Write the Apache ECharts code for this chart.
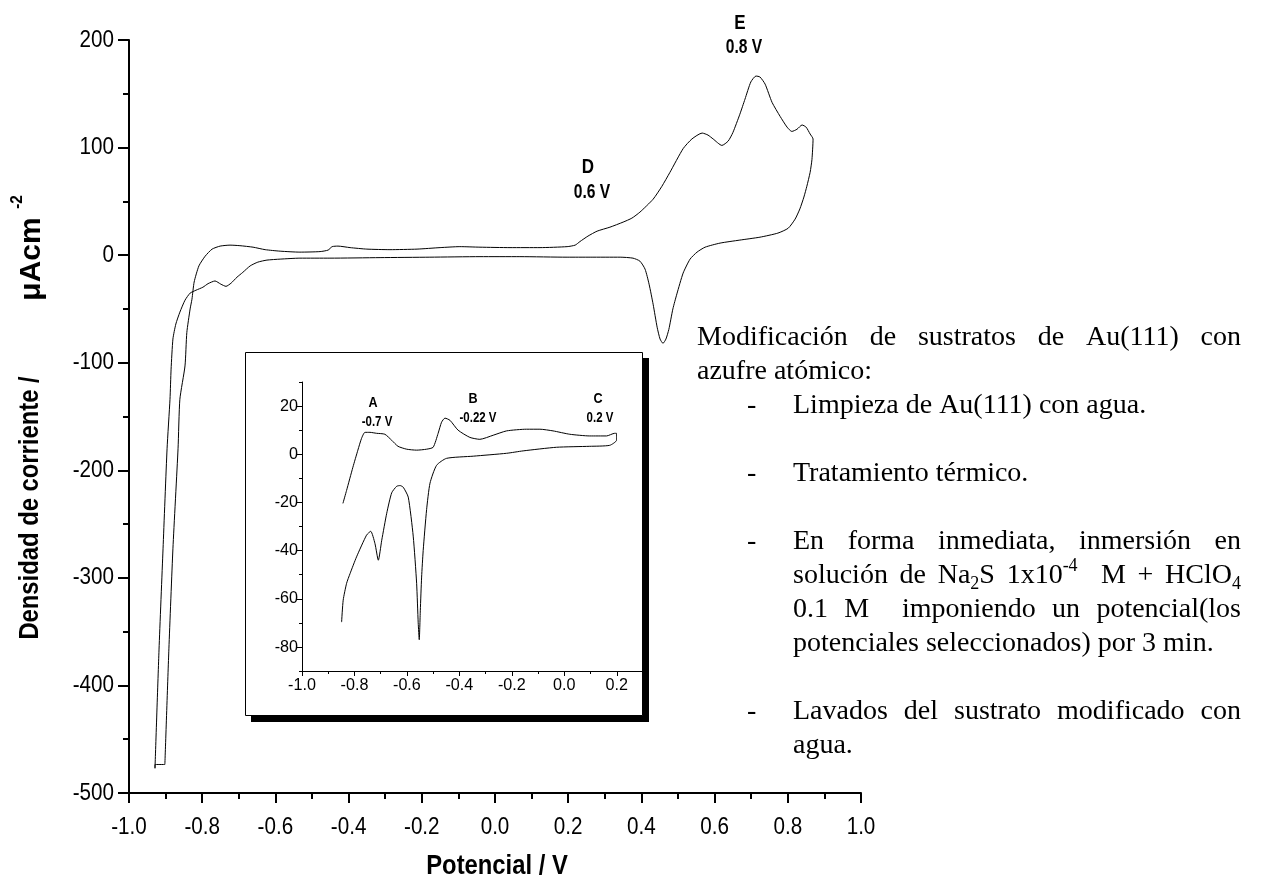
<!DOCTYPE html>
<html>
<head>
<meta charset="utf-8">
<script src="https://cdn.jsdelivr.net/npm/echarts@6/dist/echarts.min.js"></script>
<style>
  html, body { margin: 0; padding: 0; background: #fff; }
  #c { width: 1264px; height: 888px; }
</style>
</head>
<body>
<div id="c"></div>
<script>
// Voltammogram of Au(111): [potential / V, current density / µA cm-2], in sweep order
const mainCV = [
  [-0.902,-473.5],[-0.891,-366],[-0.880,-273],[-0.866,-180],[-0.861,-134],[-0.847,-103],[-0.842,-72],
  [-0.833,-50],[-0.828,-41],[-0.822,-25],[-0.809,-10],[-0.792,-1],[-0.773,5.6],[-0.751,8.4],[-0.724,9.3],
  [-0.697,8.8],[-0.661,7.4],[-0.628,5.1],[-0.587,3.7],[-0.533,2.8],[-0.478,3.3],[-0.456,4.7],[-0.445,7.9],
  [-0.429,8.4],[-0.396,7],[-0.350,5.6],[-0.287,5.1],[-0.213,5.6],[-0.150,7],[-0.096,7.9],[-0.041,7.4],
  [0.041,7],[0.123,7],[0.197,7.9],[0.219,9.3],[0.232,12.6],[0.254,17.7],[0.279,22.3],[0.314,26],
  [0.350,30.7],[0.374,34.4],[0.396,40],[0.432,52],[0.456,64],[0.478,77],[0.514,99],[0.538,108],
  [0.566,113.5],[0.582,111.6],[0.596,108],[0.620,102],[0.637,106],[0.650,114],[0.669,131],[0.683,145],
  [0.699,161],[0.713,166.5],[0.724,165.6],[0.738,159],[0.757,142],[0.779,129],[0.798,119],[0.811,115],
  [0.825,117],[0.839,121],[0.850,119],[0.861,112.6],[0.869,108],
  [0.866,89],[0.861,77],[0.852,64],[0.844,54],[0.833,43],[0.820,33.5],[0.801,25],[0.773,20.5],
  [0.724,16.7],[0.669,14],[0.615,11.2],[0.574,7.4],[0.552,2.8],[0.533,-3.7],[0.514,-16.7],[0.497,-36],
  [0.486,-50],[0.475,-69],[0.467,-78],[0.459,-82],[0.451,-78],[0.443,-67],[0.432,-45.6],[0.421,-27],
  [0.410,-13],[0.396,-5.6],[0.377,-2.8],[0.342,-1.9],[0.260,-1.9],[0.197,-1.9],[0.068,-1.4],[-0.041,-1.4],
  [-0.178,-1.9],[-0.314,-2.3],[-0.451,-2.8],[-0.533,-2.8],[-0.587,-3.7],[-0.623,-4.6],[-0.648,-6.5],
  [-0.669,-10],[-0.689,-16],[-0.705,-20.5],[-0.721,-26],[-0.735,-29],[-0.749,-27],[-0.765,-24],
  [-0.784,-26.5],[-0.798,-29.8],[-0.817,-32.6],[-0.833,-35.3],[-0.847,-41.9],[-0.861,-53],[-0.872,-64],
  [-0.880,-78],[-0.885,-106],[-0.888,-134],[-0.896,-180],[-0.907,-273],[-0.918,-367],[-0.929,-477],
  [-0.929,-473.5],[-0.902,-473.5]
];

// Inset: narrower potential window
const insetCV = [
  [-0.844,-20.4],[-0.830,-15],[-0.806,-5.4],[-0.787,1.7],[-0.773,6.6],[-0.760,9.1],[-0.741,9.1],
  [-0.716,8.7],[-0.684,8.3],[-0.658,5.8],[-0.634,3.3],[-0.601,2.1],[-0.563,1.7],[-0.525,2.1],[-0.500,2.9],
  [-0.481,8.7],[-0.468,13.3],[-0.455,15],[-0.436,14.1],[-0.405,10],[-0.360,7],[-0.322,6.2],[-0.271,7.9],
  [-0.220,9.7],[-0.144,10.4],[-0.093,10.4],[-0.043,9.7],[0.021,8.3],[0.097,7.6],[0.161,7.6],[0.192,8.7],
  [0.199,8.7],
  [0.199,5.8],[0.173,3.7],[0.097,3.3],[-0.030,2.9],[-0.157,1.4],[-0.220,0.4],[-0.347,-0.8],[-0.449,-1.7],
  [-0.487,-4.6],[-0.512,-12],[-0.525,-23],[-0.538,-40],[-0.544,-51],[-0.549,-65],[-0.553,-77],[-0.557,-70],
  [-0.563,-53.6],[-0.576,-34],[-0.595,-17.8],[-0.614,-13.7],[-0.626,-13],[-0.639,-13.3],[-0.658,-16],
  [-0.677,-24.5],[-0.696,-35.7],[-0.709,-44],[-0.722,-37],[-0.738,-32],[-0.754,-33.6],[-0.792,-42.6],
  [-0.817,-49.6],[-0.830,-53.6],[-0.843,-60.6],[-0.849,-69.7]
];

// Tick values and their labels
const mainXTicks = [-1.0,-0.8,-0.6,-0.4,-0.2,0.0,0.2,0.4,0.6,0.8,1.0];
const mainYTicks = [200,100,0,-100,-200,-300,-400,-500];
const insetXTicks = [-1.0,-0.8,-0.6,-0.4,-0.2,0.0,0.2];
const insetYTicks = [20,0,-20,-40,-60,-80];
const insetYMinorTicks = [30,10,-10,-30,-50,-70,-90];

// Peak annotations
const mainPeakNames = ['D','E'];
const mainPeakPotentials = ['0.6 V','0.8 V'];
const insetPeakNames = ['A','B','C'];
const insetPeakPotentials = ['-0.7 V','-0.22 V','0.2 V'];

// Axis titles
const xTitle = 'Potencial / V';
const yTitleMain = 'Densidad de corriente /';
const yTitleUnit = 'μAcm';
const yTitleExp = '-2';

// Procedure notes (_{..} subscript, ^{..} superscript)
const noteText = [
  'Modificación de sustratos de Au(111) con',
  'azufre atómico:',
  'Limpieza de Au(111) con agua.',
  'Tratamiento térmico.',
  'En forma inmediata, inmersión en',
  'solución de Na_{2}S 1x10^{-4}  M + HClO_{4}',
  '0.1 M  imponiendo un potencial(los',
  'potenciales seleccionados) por 3 min.',
  'Lavados del sustrato modificado con',
  'agua.'
];

const SANS = '"Liberation Sans", Arial, Helvetica, sans-serif';
const SERIF = '"Liberation Serif", "Times New Roman", Times, serif';

const chart = echarts.init(document.getElementById('c'), null, { renderer: 'canvas' });

function valueAxis(o) {
  return Object.assign({
    type: 'value',
    axisLine: { show: true, onZero: false, lineStyle: { color: '#000', width: o.w } },
    axisTick: { show: true, length: o.tick, lineStyle: { color: '#000', width: o.w } },
    minorTick: { show: o.minor !== false, splitNumber: 2, length: o.minorLen, lineStyle: { color: '#000', width: o.w } },
    axisLabel: { show: false },
    splitLine: { show: false },
    minorSplitLine: { show: false }
  }, o.extra);
}

chart.setOption({
  animation: false,
  backgroundColor: '#fff',
  grid: [
    { left: 129, top: 40, width: 732, height: 753 },
    { left: 302, top: 382, width: 341, height: 289, z: 5 }
  ],
  xAxis: [
    valueAxis({ w: 2, tick: 10, minorLen: 6, extra: { gridIndex: 0, min: -1, max: 1, interval: 0.2 } }),
    valueAxis({ w: 1, tick: 5, minorLen: 3, extra: { gridIndex: 1, min: -1, max: 0.3, interval: 0.2, z: 5 } })
  ],
  yAxis: [
    valueAxis({ w: 2, tick: 11, minorLen: 6, extra: { gridIndex: 0, min: -500, max: 200, interval: 100 } }),
    valueAxis({ w: 1, tick: 5, minorLen: 3, minor: false,
      extra: { gridIndex: 1, min: -90, max: 30, position: 'left', z: 5 } }),
    valueAxis({ w: 1, tick: 3, minorLen: 3, minor: false,
      extra: { gridIndex: 1, min: -90, max: 30, position: 'left', z: 5 } })
  ],
  series: [
    {
      type: 'line', xAxisIndex: 0, yAxisIndex: 0, data: mainCV,
      symbol: 'none', smooth: 0.2, lineStyle: { color: '#000', width: 1 }, z: 2
    },
    {
      type: 'line', xAxisIndex: 1, yAxisIndex: 1, data: insetCV,
      symbol: 'none', smooth: 0.2, lineStyle: { color: '#000', width: 1 }, z: 6
    }
  ]
});

// inset tick positions (major labelled ticks and unlabelled ones in between)
chart.setOption({
  yAxis: [
    {},
    { axisTick: { customValues: insetYTicks }, axisLabel: { show: false, customValues: insetYTicks } },
    { axisLine: { show: false }, axisTick: { customValues: insetYMinorTicks }, axisLabel: { show: false, customValues: insetYMinorTicks } }
  ]
});

function txt(x, y, text, o) {
  o = o || {};
  return {
    type: 'text', x: x, y: y, z: 20,
    scaleX: o.sx || 1, scaleY: o.sy || 1, rotation: o.rot || 0,
    style: {
      text: text, fill: '#000',
      fontFamily: o.family || SANS, fontSize: o.size || 20,
      fontWeight: o.weight || 'normal',
      align: o.align || 'center', verticalAlign: o.va || 'middle'
    }
  };
}

const g = [];

// inset frame with drop shadow
g.push({ type: 'rect', z: 3, shape: { x: 251, y: 358, width: 398, height: 364 }, style: { fill: '#000' } });
g.push({ type: 'rect', z: 4, shape: { x: 245.5, y: 352.5, width: 397, height: 363 }, style: { fill: '#fff', stroke: '#000', lineWidth: 1 } });

// tick labels from the axes' own scales
const px = (finder, v) => chart.convertToPixel(finder, v);
mainXTicks.forEach(v => g.push(txt(px({ xAxisIndex: 0 }, v), 827, v.toFixed(1), { size: 24, sx: 0.86 })));
mainYTicks.forEach(v => g.push(txt(114, px({ yAxisIndex: 0 }, v), String(v), { size: 24, sx: 0.86, align: 'right' })));
insetXTicks.forEach(v => g.push(txt(px({ xAxisIndex: 1 }, v), 685, v.toFixed(1), { size: 17, sx: 0.95 })));
insetYTicks.forEach(v => g.push(txt(298, px({ yAxisIndex: 1 }, v), String(v), { size: 17, sx: 0.95, align: 'right' })));

// axis titles
g.push(txt(497, 866, xTitle, { size: 28, weight: 'bold', sx: 0.85 }));
g.push(txt(30, 508, yTitleMain, { size: 28, weight: 'bold', sx: 0.85, rot: Math.PI / 2 }));
g.push(txt(32, 259, yTitleUnit, { size: 30, weight: 'bold', sx: 1.0, rot: Math.PI / 2 }));
g.push(txt(17, 202, yTitleExp, { size: 17, weight: 'bold', sx: 0.9, rot: Math.PI / 2 }));

// peak annotations
const mainPeakPos = [[588, 167, 592, 192], [740, 23, 744, 47]];
mainPeakNames.forEach((n, i) => {
  const p = mainPeakPos[i];
  g.push(txt(p[0], p[1], n, { size: 20, weight: 'bold', sx: 0.85 }));
  g.push(txt(p[2], p[3], mainPeakPotentials[i], { size: 20, weight: 'bold', sx: 0.78 }));
});
const insetPeakPos = [[373, 403, 377, 422], [473, 399, 478, 418], [598, 399, 600, 418]];
insetPeakNames.forEach((n, i) => {
  const p = insetPeakPos[i];
  g.push(txt(p[0], p[1], n, { size: 14, weight: 'bold', sx: 0.9 }));
  g.push(txt(p[2], p[3], insetPeakPotentials[i], { size: 14, weight: 'bold', sx: 0.82 }));
});

// procedure notes, laid out word by word so full lines can be justified
const NOTE_SIZE = 28;
const noteLeft = 697, noteRight = 1241, dashX = 747, itemLeft = 793, rowTop = 338, rowStep = 34;
// [row, indented item?, justified?, leading dash?]
const noteLayout = [[0,0,1,0],[1,0,0,0],[2,1,0,1],[4,1,0,1],[6,1,1,1],[7,1,1,0],[8,1,1,0],[9,1,0,0],[11,1,1,1],[12,1,0,0]];

const mctx = document.createElement('canvas').getContext('2d');
function measure(t, size) { mctx.font = size + 'px ' + SERIF; return mctx.measureText(t).width; }
function segments(word) {
  const out = []; const re = /([_^])\{([^}]*)\}/g; let last = 0, m;
  while ((m = re.exec(word))) {
    if (m.index > last) out.push({ t: word.slice(last, m.index), k: 'n' });
    out.push({ t: m[2], k: m[1] === '_' ? 'sub' : 'sup' });
    last = re.lastIndex;
  }
  if (last < word.length) out.push({ t: word.slice(last), k: 'n' });
  return out;
}
const SMALL = Math.round(NOTE_SIZE * 0.65);
function segWidth(s) { return measure(s.t, s.k === 'n' ? NOTE_SIZE : SMALL); }

noteText.forEach((line, i) => {
  const [row, item, just, dash] = noteLayout[i];
  const y = rowTop + row * rowStep;
  const x0 = item ? itemLeft : noteLeft;
  if (dash) g.push(txt(dashX, y, '-', { family: SERIF, size: NOTE_SIZE, align: 'left' }));
  const words = line.split(' ').map(segments);
  const widths = words.map(w => w.reduce((a, s) => a + segWidth(s), 0));
  const total = widths.reduce((a, b) => a + b, 0);
  const gap = just ? (noteRight - x0 - total) / (words.length - 1) : measure(' ', NOTE_SIZE);
  let x = x0;
  words.forEach((w, j) => {
    w.forEach(s => {
      const dy = s.k === 'sub' ? NOTE_SIZE * 0.3 : s.k === 'sup' ? -NOTE_SIZE * 0.33 : 0;
      g.push(txt(x, y + dy, s.t, { family: SERIF, size: s.k === 'n' ? NOTE_SIZE : SMALL, align: 'left' }));
      x += segWidth(s);
    });
    x += gap;
  });
});

chart.setOption({ graphic: { elements: g } });
</script>
</body>
</html>
